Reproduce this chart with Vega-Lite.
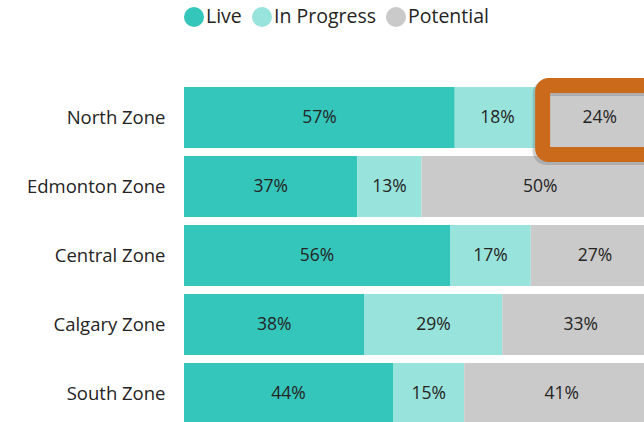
{
  "$schema": "https://vega.github.io/schema/vega-lite/v6.json",
  "autosize": "none",
  "width": 460,
  "height": 422,
  "padding": {"left": 184, "top": 0, "right": 0, "bottom": 0},
  "background": "white",
  "config": {"view": {"stroke": null}, "font": "Open Sans"},
  "datasets": {
    "bars": [
      {"Zone": "North Zone", "Status": "Live", "rank": 1, "value": 0.57, "label": "57%"},
      {"Zone": "North Zone", "Status": "In Progress", "rank": 2, "value": 0.18, "label": "18%"},
      {"Zone": "North Zone", "Status": "Potential", "rank": 3, "value": 0.25, "label": "24%"},
      {"Zone": "Edmonton Zone", "Status": "Live", "rank": 1, "value": 0.365, "label": "37%"},
      {"Zone": "Edmonton Zone", "Status": "In Progress", "rank": 2, "value": 0.135, "label": "13%"},
      {"Zone": "Edmonton Zone", "Status": "Potential", "rank": 3, "value": 0.5, "label": "50%"},
      {"Zone": "Central Zone", "Status": "Live", "rank": 1, "value": 0.56, "label": "56%"},
      {"Zone": "Central Zone", "Status": "In Progress", "rank": 2, "value": 0.17, "label": "17%"},
      {"Zone": "Central Zone", "Status": "Potential", "rank": 3, "value": 0.27, "label": "27%"},
      {"Zone": "Calgary Zone", "Status": "Live", "rank": 1, "value": 0.38, "label": "38%"},
      {"Zone": "Calgary Zone", "Status": "In Progress", "rank": 2, "value": 0.29, "label": "29%"},
      {"Zone": "Calgary Zone", "Status": "Potential", "rank": 3, "value": 0.33, "label": "33%"},
      {"Zone": "South Zone", "Status": "Live", "rank": 1, "value": 0.44, "label": "44%"},
      {"Zone": "South Zone", "Status": "In Progress", "rank": 2, "value": 0.15, "label": "15%"},
      {"Zone": "South Zone", "Status": "Potential", "rank": 3, "value": 0.41, "label": "41%"}
    ],
    "highlight": [
      {"Zone": "North Zone", "start": 0.755, "end": 1.08}
    ]
  },
  "layer": [
    {
      "data": {"name": "bars"},
      "mark": {"type": "bar"},
      "encoding": {
        "y": {"field": "Zone", "type": "nominal", "sort": ["North Zone", "Edmonton Zone", "Central Zone", "Calgary Zone", "South Zone"],
              "scale": {"range": [83, 428], "paddingInner": 0.116, "paddingOuter": 0.058},
              "axis": {"title": null, "domain": false, "ticks": false, "labelPadding": 19, "labelFontSize": 18.5, "labelColor": "#252423", "labelFont": "Open Sans"}},
        "x": {"field": "value", "type": "quantitative", "stack": "zero", "scale": {"domain": [0, 1], "range": [0, 475], "nice": false}, "axis": null},
        "order": {"field": "rank", "type": "quantitative"},
        "color": {"field": "Status", "type": "nominal",
                  "scale": {"domain": ["Live", "In Progress", "Potential"], "range": ["#34C6BB", "#98E3DB", "#CACACA"]},
                  "legend": {"title": null, "orient": "none", "legendX": 0, "legendY": 7, "direction": "horizontal", "symbolType": "circle", "symbolSize": 400, "symbolStrokeWidth": 0, "symbolOpacity": 1, "labelFontSize": 19.5, "labelColor": "#252423", "labelOffset": 2, "columnPadding": 10, "labelFont": "Open Sans"}}
      }
    },
    {
      "data": {"name": "bars"},
      "mark": {"type": "text", "fontSize": 17.5, "color": "#252423", "baseline": "middle", "align": "center"},
      "encoding": {
        "y": {"field": "Zone", "type": "nominal", "sort": ["North Zone", "Edmonton Zone", "Central Zone", "Calgary Zone", "South Zone"]},
        "x": {"field": "value", "type": "quantitative", "stack": "zero", "bandPosition": 0.5},
        "order": {"field": "rank", "type": "quantitative"},
        "detail": {"field": "Status", "type": "nominal"},
        "text": {"field": "label", "type": "nominal"}
      }
    },
    {
      "data": {"name": "highlight"},
      "mark": {"type": "bar", "fill": null, "stroke": "#777777", "strokeOpacity": 0.35, "strokeWidth": 16, "cornerRadius": 6, "height": {"band": 1.131}, "yOffset": 5, "xOffset": -2},
      "encoding": {
        "y": {"field": "Zone", "type": "nominal", "sort": ["North Zone", "Edmonton Zone", "Central Zone", "Calgary Zone", "South Zone"]},
        "x": {"field": "start", "type": "quantitative"},
        "x2": {"field": "end"}
      }
    },
    {
      "data": {"name": "highlight"},
      "mark": {"type": "bar", "fill": null, "stroke": "#CC6A1B", "strokeWidth": 15, "cornerRadius": 6, "height": {"band": 1.131}, "yOffset": 2.5},
      "encoding": {
        "y": {"field": "Zone", "type": "nominal", "sort": ["North Zone", "Edmonton Zone", "Central Zone", "Calgary Zone", "South Zone"]},
        "x": {"field": "start", "type": "quantitative"},
        "x2": {"field": "end"}
      }
    }
  ]
}
